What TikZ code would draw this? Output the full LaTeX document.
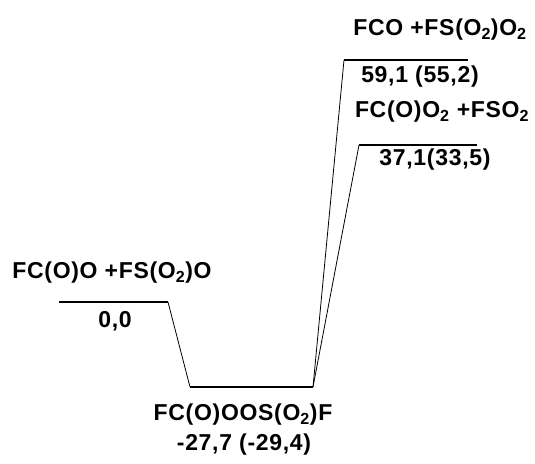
\documentclass[tikz,border=0pt]{standalone}
\usepackage{fontspec}
\setmainfont{Liberation Sans}[LetterSpace=3]
\usetikzlibrary{positioning}
\newcommand{\sub}[1]{\textsubscript{#1}}

\begin{document}
\begin{tikzpicture}[
        x=1pt, y=1pt,
        level/.style={line width=2pt},
        link/.style={line width=0.8pt},
        lbl/.style={font=\bfseries\fontsize{23}{26}\selectfont, inner sep=0pt}
    ]
        \useasboundingbox (0,0) rectangle (535,463);
        % energy levels
        \coordinate (r1) at (59,161);  \coordinate (r2) at (168,161);
        \coordinate (m1) at (190,76);  \coordinate (m2) at (313,76);
        \coordinate (p1) at (344,403); \coordinate (p2) at (468,403);
        \coordinate (q1) at (359,318); \coordinate (q2) at (477,318);
        \draw[level] (r1) -- (r2);
        \draw[level] (m1) -- (m2);
        \draw[level] (p1) -- (p2);
        \draw[level] (q1) -- (q2);
        \draw[link] (r2) -- (m1);
        \draw[link] (m2) -- (p1);
        \draw[link] (m2) -- (q1);
        % labels
        \node[lbl] (rt) at (112,190) {FC(O)O +FS(O\sub{2})O};
        \node[lbl] (rv) at (115,142) {0,0};
        \node[lbl] (mt) at (243,48)  {FC(O)OOS(O\sub{2})F};
        \node[lbl] (mv) at (244,18)  {-27,7 (-29,4)};
        \node[lbl] (pt) at (440,433) {FCO +FS(O\sub{2})O\sub{2}};
        \node[lbl] (pv) at (420,386) {59,1 (55,2)};
        \node[lbl] (qt) at (442,351) {FC(O)O\sub{2} +FSO\sub{2}};
        \node[lbl] (qv) at (435,303) {37,1(33,5)};
    \end{tikzpicture}
\end{document}
